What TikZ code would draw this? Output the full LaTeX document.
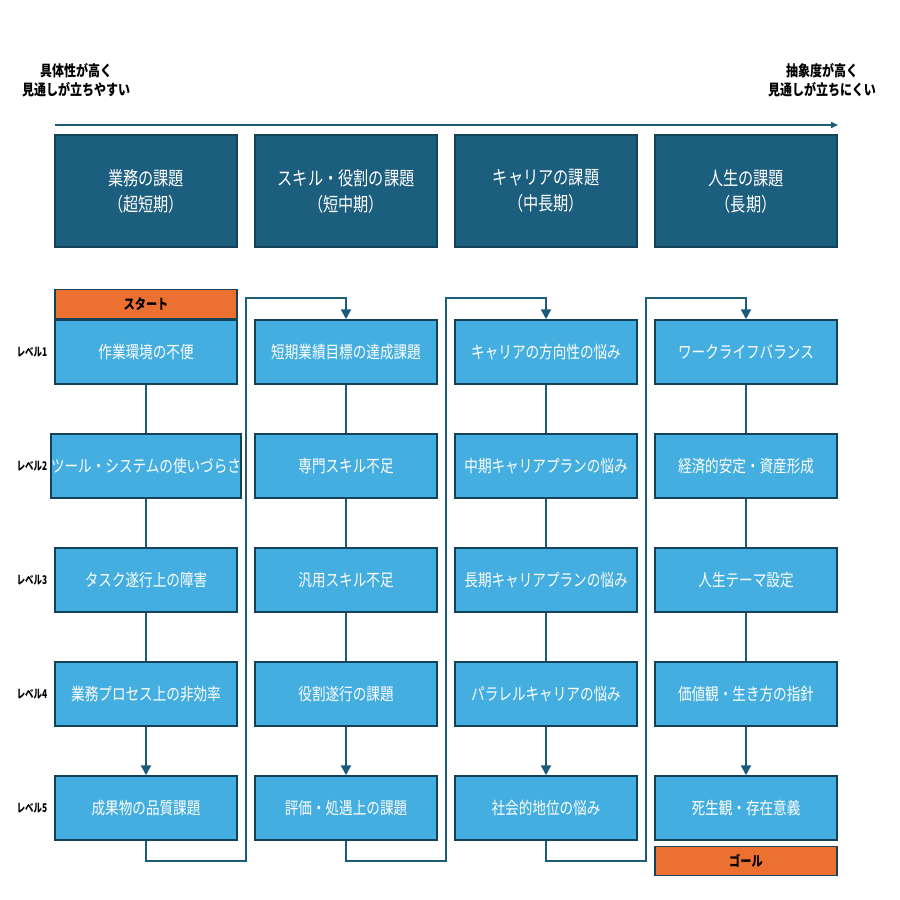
\documentclass[tikz,border=0pt]{standalone}
\usepackage{fontspec}
\setmainfont{Noto Sans CJK JP}
\usetikzlibrary{positioning,arrows.meta}
\definecolor{hdark}{HTML}{1C5E7E}
\definecolor{lblue}{HTML}{45AEE0}
\definecolor{sorange}{HTML}{EC7131}
\definecolor{lline}{HTML}{1A5C7A}
\newcommand{\nt}[1]{\scalebox{0.8}[1]{#1}}
\tikzset{
  hnode/.style={rectangle, draw=hdark!70!black, fill=hdark, line width=1.2pt, minimum width=182pt, minimum height=112pt, text=white, font=\fontsize{19}{26}\selectfont, align=center},
  lnode/.style={rectangle, draw=hdark!70!black, fill=lblue, line width=1.5pt, minimum width=182pt, minimum height=64pt, inner sep=0pt, text=white, font=\fontsize{17}{20}\selectfont},
  onode/.style={rectangle, draw=hdark!70!black, fill=sorange, line width=1.5pt, minimum width=182pt, minimum height=29pt, inner sep=0pt, font=\bfseries\fontsize{14}{16}\selectfont},
  tnode/.style={font=\bfseries\fontsize{15}{19}\selectfont, align=center},
  levnode/.style={font=\bfseries\fontsize{12}{14}\selectfont},
  conn/.style={draw=lline, line width=2.2pt},
  aconn/.style={conn, -{Triangle[length=10pt,width=10pt]}}
}
\begin{document}
\begin{tikzpicture}[x=1pt, y=-1pt]
   \useasboundingbox (0,0) rectangle (900,900);
   % top texts
   \node[tnode] (tl) at (76,80) {\nt{具体性が高く}\\\nt{見通しが立ちやすい}};
   \node[tnode] (tr) at (822,80) {\nt{抽象度が高く}\\\nt{見通しが立ちにくい}};
   \coordinate (al) at (55,125);
   \coordinate (ar) at (838,125);
   \draw[draw=lline, line width=1.5pt, -{Triangle[length=7pt,width=6pt]}] (al) -- (ar);
   % header nodes
   \node[hnode] (h1) at (146,191) {\nt{業務の課題}\\\nt{（超短期）}};
   \node[hnode] (h2) at (346,191) {\nt{スキル・役割の課題}\\\nt{（短中期）}};
   \node[hnode] (h3) at (546,191) {\nt{キャリアの課題}\\\nt{（中長期）}};
   \node[hnode] (h4) at (746,191) {\nt{人生の課題}\\\nt{（長期）}};
   % level labels
   \foreach \r in {1,...,5}
     \node[levnode] (lev\r) at (32,238+114*\r) {\scalebox{0.7}[1]{レベル\r}};
   % column 1
   \node[lnode] (b11) at (146,352) {\nt{作業環境の不便}};
   \node[lnode] (b12) at (146,466) {\nt{ツール・システムの使いづらさ}};
   \node[lnode] (b13) at (146,580) {\nt{タスク遂行上の障害}};
   \node[lnode] (b14) at (146,694) {\nt{業務プロセス上の非効率}};
   \node[lnode] (b15) at (146,808) {\nt{成果物の品質課題}};
   % column 2
   \node[lnode] (b21) at (346,352) {\nt{短期業績目標の達成課題}};
   \node[lnode] (b22) at (346,466) {\nt{専門スキル不足}};
   \node[lnode] (b23) at (346,580) {\nt{汎用スキル不足}};
   \node[lnode] (b24) at (346,694) {\nt{役割遂行の課題}};
   \node[lnode] (b25) at (346,808) {\nt{評価・処遇上の課題}};
   % column 3
   \node[lnode] (b31) at (546,352) {\nt{キャリアの方向性の悩み}};
   \node[lnode] (b32) at (546,466) {\nt{中期キャリアプランの悩み}};
   \node[lnode] (b33) at (546,580) {\nt{長期キャリアプランの悩み}};
   \node[lnode] (b34) at (546,694) {\nt{パラレルキャリアの悩み}};
   \node[lnode] (b35) at (546,808) {\nt{社会的地位の悩み}};
   % column 4
   \node[lnode] (b41) at (746,352) {\nt{ワークライフバランス}};
   \node[lnode] (b42) at (746,466) {\nt{経済的安定・資産形成}};
   \node[lnode] (b43) at (746,580) {\nt{人生テーマ設定}};
   \node[lnode] (b44) at (746,694) {\nt{価値観・生き方の指針}};
   \node[lnode] (b45) at (746,808) {\nt{死生観・存在意義}};
   % start and goal
   \node[onode, above=0pt of b11] (start) {\nt{スタート}};
   \node[onode, below=5pt of b45] (goal) {\nt{ゴール}};
   % column connections
   \foreach \c in {1,...,4} {
     \draw[conn] (b\c1) -- (b\c2);
     \draw[conn] (b\c2) -- (b\c3);
     \draw[conn] (b\c3) -- (b\c4);
     \draw[aconn] (b\c4) -- (b\c5);
   }
   % snake connections
   \draw[aconn] (b15.south) -- ++(0,20) -| (246,298) -| (b21.north);
   \draw[aconn] (b25.south) -- ++(0,20) -| (446,298) -| (b31.north);
   \draw[aconn] (b35.south) -- ++(0,20) -| (646,298) -| (b41.north);
\end{tikzpicture}
\end{document}
